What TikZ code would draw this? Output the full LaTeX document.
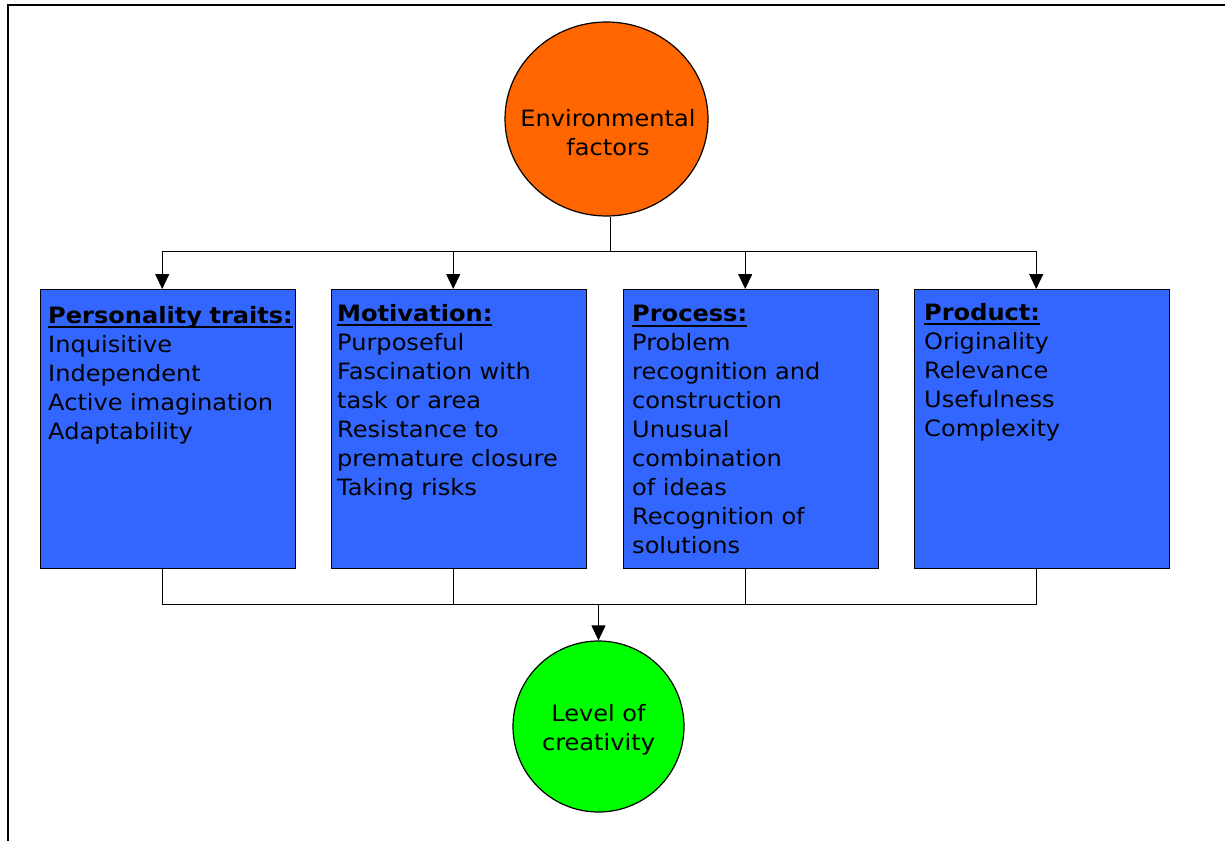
\documentclass[tikz,border=0pt]{standalone}
\usepackage{fontspec}
\setmainfont{DejaVu Sans}[FakeStretch=1.07]
\usetikzlibrary{arrows.meta,shapes.geometric}
\definecolor{envorange}{HTML}{FF6600}
\definecolor{boxblue}{HTML}{3366FF}
\definecolor{levgreen}{HTML}{00FF00}
\newcommand\hdr[1]{\setbox0=\hbox{\bfseries #1}\rlap{\rule[-5pt]{\wd0}{2pt}}\box0}
\tikzset{
  conn/.style={line width=1pt, draw=black},
  arr/.style={conn, -{Triangle[width=14pt,length=15pt]}},
  factorbox/.style={draw=black, line width=1.4pt, fill=boxblue, minimum width=255pt, minimum height=279pt, anchor=north west, inner sep=0pt},
  boxtext/.style={anchor=base west, inner sep=0pt, text width=250pt, align=left, font=\fontsize{22.5}{29}\selectfont},
  circtext/.style={anchor=base, inner sep=0pt, text width=200pt, align=center, font=\fontsize{22.5}{29}\selectfont},
}
\begin{document}
\begin{tikzpicture}[x=1pt,y=-1pt]
\useasboundingbox (0,0) rectangle (1225,840);
% frame
\draw[line width=2.3pt] (8,845) -- (8,5) -- (1230,5);
% environmental factors
\node[ellipse, draw=black, line width=1.2pt, fill=envorange, minimum width=203pt, minimum height=194pt, inner sep=0pt] (env) at (606.5,119) {};
\node[circtext] (envt) at (608,126) {Environmental\\factors};
% boxes
\node[factorbox] (b1) at (40,289) {};
\node[factorbox] (b2) at (331,289) {};
\node[factorbox] (b3) at (623,289) {};
\node[factorbox] (b4) at (914,289) {};
\node[boxtext] (t1) at (48,323) {\hdr{Personality traits:}\\Inquisitive\\Independent\\Active imagination\\Adaptability};
\node[boxtext] (t2) at (337,321) {\hdr{Motivation:}\\Purposeful\\Fascination with\\task or area\\Resistance to\\premature closure\\Taking risks};
\node[boxtext] (t3) at (632,321.5) {\hdr{Process:}\\Problem\\recognition and\\construction\\Unusual\\combination\\of ideas\\Recognition of\\solutions};
\node[boxtext] (t4) at (924,320) {\hdr{Product:}\\Originality\\Relevance\\Usefulness\\Complexity};
% level of creativity
\node[circle, draw=black, line width=1.2pt, fill=levgreen, minimum size=171pt, inner sep=0pt] (lev) at (598.5,726.5) {};
\node[circtext] (levt) at (598.5,721) {Level of\\creativity};
% top connectors
\coordinate (jt) at (610,251);
\draw[conn] (jt |- env.south) -- (jt);
\draw[arr] (jt) -| ([xshift=-6pt]b1.north);
\draw[arr] (jt) -| ([xshift=-6pt]b2.north);
\draw[arr] (jt) -| ([xshift=-6pt]b3.north);
\draw[arr] (jt) -| ([xshift=-6pt]b4.north);
% bottom connectors
\coordinate (jb) at (598.5,604);
\draw[conn] ([xshift=-6pt]b1.south) |- (jb);
\draw[conn] ([xshift=-6pt]b2.south) |- (jb);
\draw[conn] ([xshift=-6pt]b3.south) |- (jb);
\draw[conn] ([xshift=-6pt]b4.south) |- (jb);
\draw[arr] (jb) -- (lev.north);
\end{tikzpicture}
\end{document}
